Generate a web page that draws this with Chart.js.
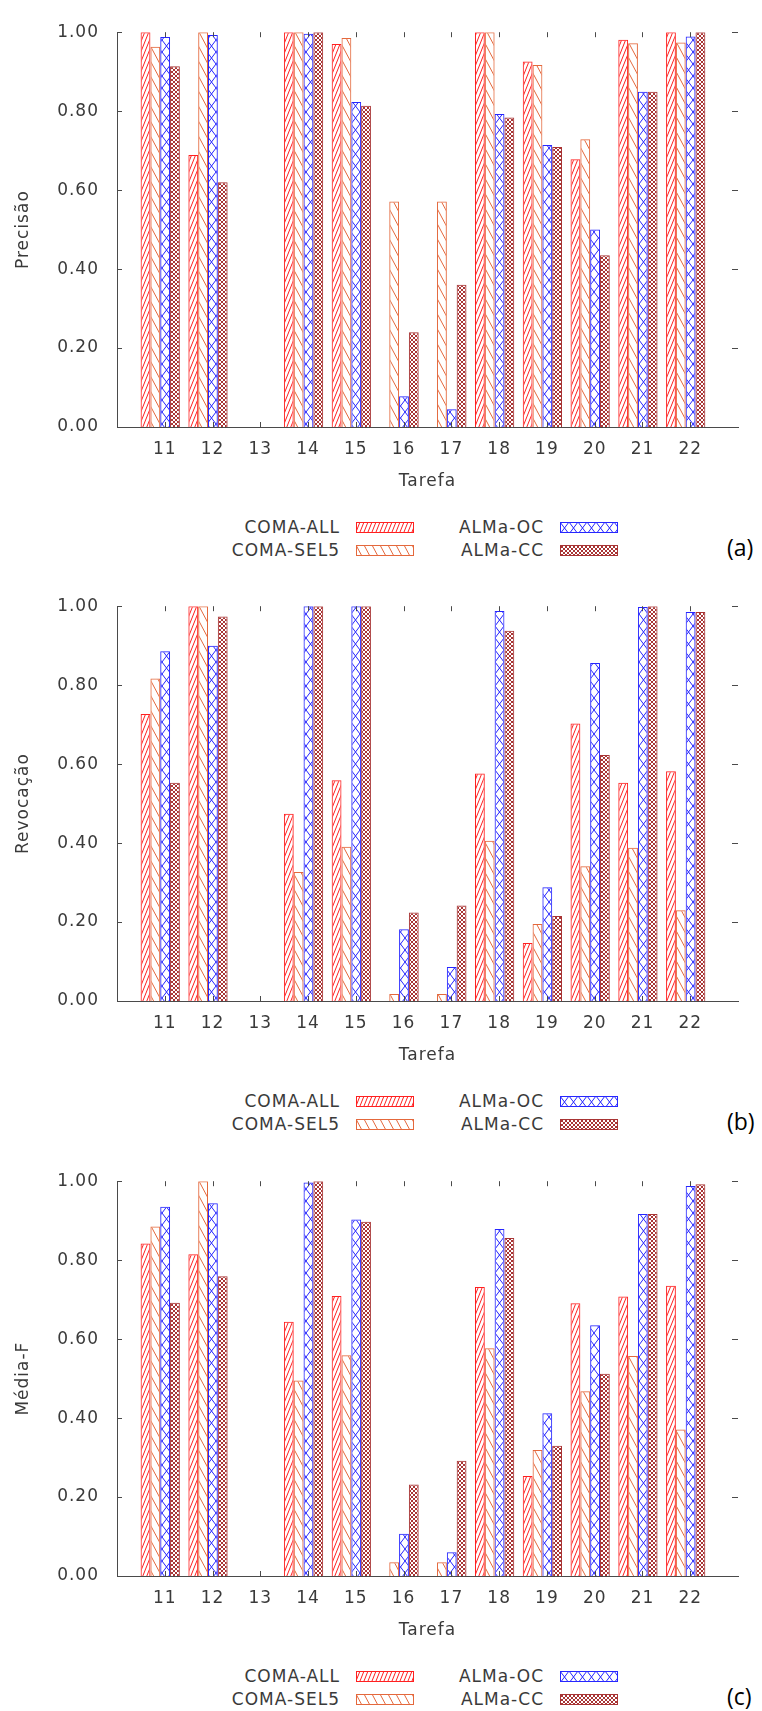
<!DOCTYPE html>
<html>
<head>
<meta charset="utf-8">
<script src="https://cdn.jsdelivr.net/npm/chart.js@4.4.1/dist/chart.umd.min.js"></script>
<style>
  body { margin: 0; background: #fff; }
  #page { position: relative; width: 762px; height: 1711px; overflow: hidden; }
  .panel { position: absolute; left: 0; }
  .item {
    position: absolute; display: flex; align-items: center; gap: 16px; height: 20px;
    font: 17px "DejaVu Sans"; letter-spacing: 1px; color: #3a3a3a; white-space: nowrap;
  }
  .item canvas { display: block; }
  .tag { position: absolute; font: 23px "Open Sans"; color: #000; line-height: 30px; }
</style>
</head>
<body>
<div id="page"></div>
<script>
const categories = [11, 12, 13, 14, 15, 16, 17, 18, 19, 20, 21, 22]
const yTicks = [0, 0.2, 0.4, 0.6, 0.8, 1.0]
const seriesNames = ["COMA-ALL", "COMA-SEL5", "ALMa-OC", "ALMa-CC"]

// (a) Precisão
const precComaAll = [1.0, 0.689, null, 1.0, 0.97, 0, 0, 1.0, 0.926, 0.678, 0.981, 1.0]
const precComaSel5 = [0.963, 1.0, null, 1.0, 0.985, 0.571, 0.571, 1.0, 0.917, 0.729, 0.972, 0.974]
const precAlmaOc = [0.988, 0.993, null, 0.996, 0.823, 0.078, 0.045, 0.793, 0.714, 0.5, 0.849, 0.989]
const precAlmaCc = [0.914, 0.62, null, 1.0, 0.814, 0.24, 0.36, 0.784, 0.709, 0.435, 0.849, 1.0]

// (b) Revocação
const recComaAll = [0.727, 1.0, null, 0.474, 0.559, 0, 0, 0.576, 0.147, 0.703, 0.553, 0.582]
const recComaSel5 = [0.817, 1.0, null, 0.327, 0.391, 0.018, 0.018, 0.406, 0.195, 0.341, 0.388, 0.23]
const recAlmaOc = [0.886, 0.9, null, 1.0, 1.0, 0.182, 0.086, 0.988, 0.288, 0.856, 0.998, 0.985]
const recAlmaCc = [0.553, 0.974, null, 1.0, 1.0, 0.224, 0.242, 0.938, 0.215, 0.623, 1.0, 0.985]

// (c) Média-F
const fComaAll = [0.842, 0.815, null, 0.644, 0.709, 0, 0, 0.732, 0.253, 0.691, 0.708, 0.735]
const fComaSel5 = [0.885, 1.0, null, 0.495, 0.559, 0.035, 0.035, 0.577, 0.319, 0.468, 0.557, 0.371]
const fAlmaOc = [0.935, 0.944, null, 0.997, 0.903, 0.107, 0.06, 0.879, 0.412, 0.635, 0.917, 0.988]
const fAlmaCc = [0.692, 0.759, null, 1.0, 0.897, 0.232, 0.292, 0.856, 0.33, 0.512, 0.917, 0.992]

const panels = [
  { tag: "(a)", title: "Precisão", series: [precComaAll, precComaSel5, precAlmaOc, precAlmaCc] },
  { tag: "(b)", title: "Revocação", series: [recComaAll, recComaSel5, recAlmaOc, recAlmaCc] },
  { tag: "(c)", title: "Média-F", series: [fComaAll, fComaSel5, fAlmaOc, fAlmaCc] },
]

// layout
const areaTops = [19, 593, 1168]
const areaHeight = 408
const padTop = 15
const axisBand = 70
const barShift = 0.095
const axisColor = "#4a4a4a"
const textColor = "#3a3a3a"

// hatch styles (gnuplot-like patterns)
const styles = [
  { color: "#ff2020", w: 4, h: 10, dirs: ["/"] },
  { color: "#e4683c", w: 8, h: 15, dirs: ["\\"] },
  { color: "#2626ff", w: 9, h: 12, dirs: ["/", "\\"] },
  { color: "#a83434", w: 4, h: 4, dirs: ["/", "\\"] },
]

function makeTile(st) {
  const c = document.createElement("canvas")
  c.width = st.w
  c.height = st.h
  const g = c.getContext("2d")
  g.strokeStyle = st.color
  g.lineWidth = 1
  g.beginPath()
  for (let k = -1; k <= 1; k++) {
    const x0 = k * st.w
    if (st.dirs.includes("/")) {
      g.moveTo(x0, st.h)
      g.lineTo(x0 + st.w, 0)
    }
    if (st.dirs.includes("\\")) {
      g.moveTo(x0, 0)
      g.lineTo(x0 + st.w, st.h)
    }
  }
  g.stroke()
  return c
}
const tiles = styles.map(makeTile)

Chart.defaults.font.family = "'DejaVu Sans', sans-serif"
Chart.defaults.font.size = 17
Chart.defaults.color = textColor

const letterSpacing = {
  id: "letterSpacing",
  beforeDraw(chart) {
    chart.ctx.letterSpacing = "1px"
  },
}

// gnuplot style inward ticks, mirrored on top and right
const innerTicks = {
  id: "innerTicks",
  afterDatasetsDraw(chart) {
    const { ctx, chartArea: a, scales } = chart
    ctx.save()
    ctx.strokeStyle = axisColor
    ctx.lineWidth = 1
    ctx.beginPath()
    scales.y.ticks.forEach((t) => {
      const py = Math.round(scales.y.getPixelForValue(t.value)) + 0.5
      ctx.moveTo(a.left, py)
      ctx.lineTo(a.left + 5, py)
      ctx.moveTo(a.right, py)
      ctx.lineTo(a.right - 6, py)
    })
    scales.x2.ticks.forEach((t) => {
      const px = Math.round(scales.x2.getPixelForValue(t.value)) + 0.5
      ctx.moveTo(px, a.bottom)
      ctx.lineTo(px, a.bottom - 5)
      ctx.moveTo(px, a.top)
      ctx.lineTo(px, a.top + 5)
    })
    ctx.stroke()
    ctx.restore()
  },
}

const page = document.getElementById("page")
const legendRight = [414, 618]
const legendRows = [508, 531]

panels.forEach((p, i) => {
  const top = areaTops[i]
  const holder = document.createElement("div")
  holder.className = "panel"
  holder.style.top = top - padTop + "px"
  const canvas = document.createElement("canvas")
  canvas.width = 762
  canvas.height = padTop + areaHeight + axisBand
  holder.appendChild(canvas)
  page.appendChild(holder)
  const ctx = canvas.getContext("2d")

  new Chart(canvas, {
    type: "bar",
    data: {
      datasets: p.series.map((vals, j) => ({
        label: seriesNames[j],
        data: categories
          .map((c, k) => ({ x: c, y: vals[k] }))
          .filter((pt) => pt.y !== null),
        backgroundColor: ctx.createPattern(tiles[j], "repeat"),
        borderColor: styles[j].color,
        borderWidth: 1,
        categoryPercentage: 0.822,
        barPercentage: 1,
      })),
    },
    options: {
      responsive: false,
      animation: false,
      events: [],
      layout: { padding: { top: padTop, right: 24, left: 0, bottom: 0 } },
      plugins: {
        legend: { display: false },
        tooltip: { enabled: false },
      },
      scales: {
        x: {
          type: "linear",
          display: false,
          offset: false,
          min: 10 + barShift,
          max: 23 + barShift,
        },
        x2: {
          type: "linear",
          position: "bottom",
          offset: false,
          min: 10,
          max: 23,
          grid: { display: false, drawTicks: false },
          border: { display: true, color: axisColor, width: 1 },
          afterBuildTicks: (s) => {
            s.ticks = categories.map((v) => ({ value: v }))
          },
          afterFit: (s) => {
            s.height = axisBand
          },
          ticks: {
            autoSkip: false,
            maxRotation: 0,
            padding: 12,
            callback: (v) => String(v),
          },
          title: {
            display: true,
            text: "Tarefa",
            padding: { top: 0, bottom: 5 },
          },
        },
        y: {
          min: 0,
          max: 1,
          grid: { display: false, drawTicks: false },
          border: { display: true, color: axisColor, width: 1 },
          afterBuildTicks: (s) => {
            s.ticks = yTicks.map((v) => ({ value: v }))
          },
          afterFit: (s) => {
            s.width = 117
          },
          ticks: {
            padding: 18,
            callback: (v) => v.toFixed(2),
          },
          title: {
            display: true,
            text: p.title,
            padding: { top: 13, bottom: 0 },
          },
        },
      },
    },
    plugins: [letterSpacing, innerTicks],
  })

  // legend, two columns
  seriesNames.forEach((name, j) => {
    const item = document.createElement("div")
    item.className = "item"
    item.style.right = 762 - legendRight[Math.floor(j / 2)] + "px"
    item.style.top = top + legendRows[j % 2] - 10 + "px"
    const label = document.createElement("span")
    label.textContent = name
    const sw = document.createElement("canvas")
    sw.width = 58
    sw.height = 11
    const g = sw.getContext("2d")
    g.fillStyle = g.createPattern(tiles[j], "repeat")
    g.fillRect(0, 0, 58, 11)
    g.strokeStyle = styles[j].color
    g.lineWidth = 1
    g.strokeRect(0.5, 0.5, 57, 10)
    item.appendChild(label)
    item.appendChild(sw)
    page.appendChild(item)
  })

  const tag = document.createElement("div")
  tag.className = "tag"
  tag.textContent = p.tag
  tag.style.left = "727px"
  tag.style.top = top + 528 - 15 + "px"
  page.appendChild(tag)
})
</script>
</body>
</html>
